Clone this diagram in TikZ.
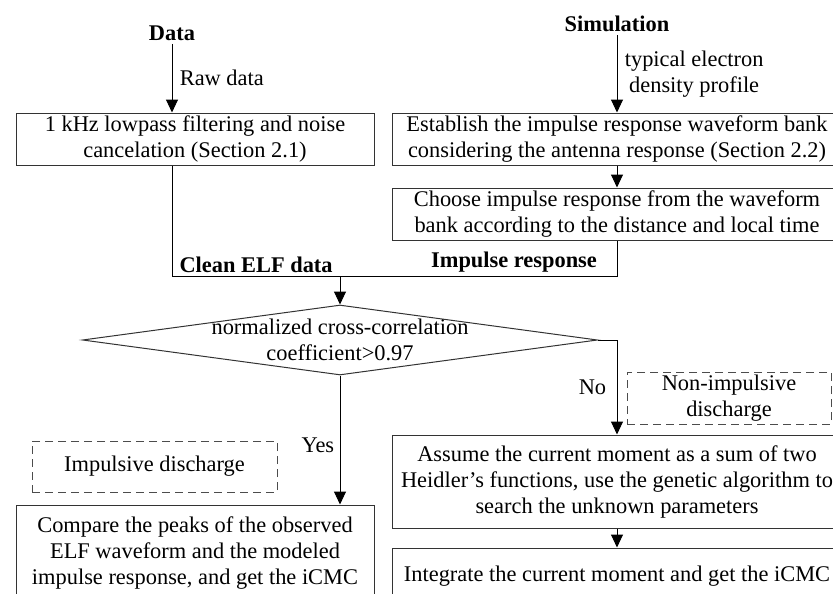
\documentclass[tikz,border=0pt]{standalone}
\usepackage{fontspec}
\setmainfont{Liberation Serif}
\usetikzlibrary{arrows.meta,positioning,shapes.geometric}
\newcommand\flowfont{\fontsize{22.4}{26}\selectfont}
\tikzset{
  procbox/.style = {
    draw=black!80,
    line width=1pt,
    inner sep=0pt,
    align=center,
    font=\flowfont
  },
  notebox/.style = {
    draw=black!70,
    line width=0.9pt,
    dash pattern=on 8pt off 5pt,
    inner sep=0pt,
    align=center,
    font=\flowfont
  },
  decision/.style = {
    draw=black!80,
    line width=1pt,
    shape=diamond,
    inner sep=0pt,
    minimum width=515pt,
    minimum height=70pt
  },
  flow/.style = {
    line width=1pt,
    -{Triangle[length=13pt,width=12pt]}
  },
  link/.style = {
    line width=1pt
  },
  heading/.style = {
    font=\flowfont\bfseries
  },
  tag/.style = {
    font=\flowfont,
    align=center
  },
}

\begin{document}
\begin{tikzpicture}[x=1pt,y=-1pt]
  \useasboundingbox (0,0) rectangle (833,594);
  \clip (0,0) rectangle (833,594);

  % sources
  \node[heading] (data) at (172,33) {Data};
  \node[heading] (sim) at (617,24) {Simulation};

  % boxes
  \node[procbox, minimum width=358pt, minimum height=52pt] (filter) at (195,139)
    {1 kHz lowpass filtering and noise\\cancelation (Section 2.1)};
  \node[procbox, minimum width=450pt, minimum height=52pt] (bank) at (617,139)
    {Establish the impulse response waveform bank\\considering the antenna response (Section 2.2)};
  \node[procbox, minimum width=450pt, minimum height=52pt] (choose) at (617,214)
    {Choose impulse response from the waveform\\bank according to the distance and local time};
  \node[decision] (decide) at (340,340) {};
  \node[tag] (decidetext) at (decide.center)
    {normalized cross-correlation\\coefficient>0.97};
  \node[procbox, minimum width=358pt, minimum height=96pt] (compare) at (195,553)
    {Compare the peaks of the observed\\ELF waveform and the modeled\\impulse response, and get the iCMC};
  \node[procbox, minimum width=450pt, minimum height=93pt] (assume) at (617,481.5)
    {Assume the current moment as a sum of two\\Heidler's functions, use the genetic algorithm to\\search the unknown parameters};
  \node[procbox, minimum width=450pt, minimum height=56pt] (integrate) at (617,576)
    {Integrate the current moment and get the iCMC};

  % notes
  \node[notebox, minimum width=245pt, minimum height=51pt] (impulsive) at (154.5,466.5)
    {Impulsive discharge};
  \node[notebox, minimum width=204pt, minimum height=52pt] (nonimp) at (729,398)
    {Non-impulsive\\discharge};

  % connectors
  \draw[flow] (data.south) -- (data.south |- filter.north)
    node[tag, midway, right=4pt] (rawtag) {Raw data};
  \draw[flow] (sim.south) -- (bank.north)
    node[tag, midway, right=4pt] (simtag) {typical electron\\density profile};
  \draw[flow] (bank.south) -- (choose.north);

  \coordinate (merge) at (340,276);
  \draw[link] (data.south |- filter.south) -- (data.south |- merge)
    -- (choose.south |- merge) -- (choose.south);
  \node[heading, anchor=south west] (cleantag) at ([xshift=4pt]data.south |- merge) {Clean ELF data};
  \node[heading, anchor=south] (imptag) at (514,276) {Impulse response};
  \draw[flow] (merge) -- (decide.north);

  \draw[flow] (decide.south) -- (decide.south |- compare.north)
    node[tag, pos=0.54, left=2pt] (yestag) {Yes};
  \draw[flow] (decide.east) -- (assume.north |- decide.east) -- (assume.north)
    node[tag, pos=0.5, left=7pt] (notag) {No};
  \draw[flow] (assume.south) -- (integrate.north);

\end{tikzpicture}
\end{document}
